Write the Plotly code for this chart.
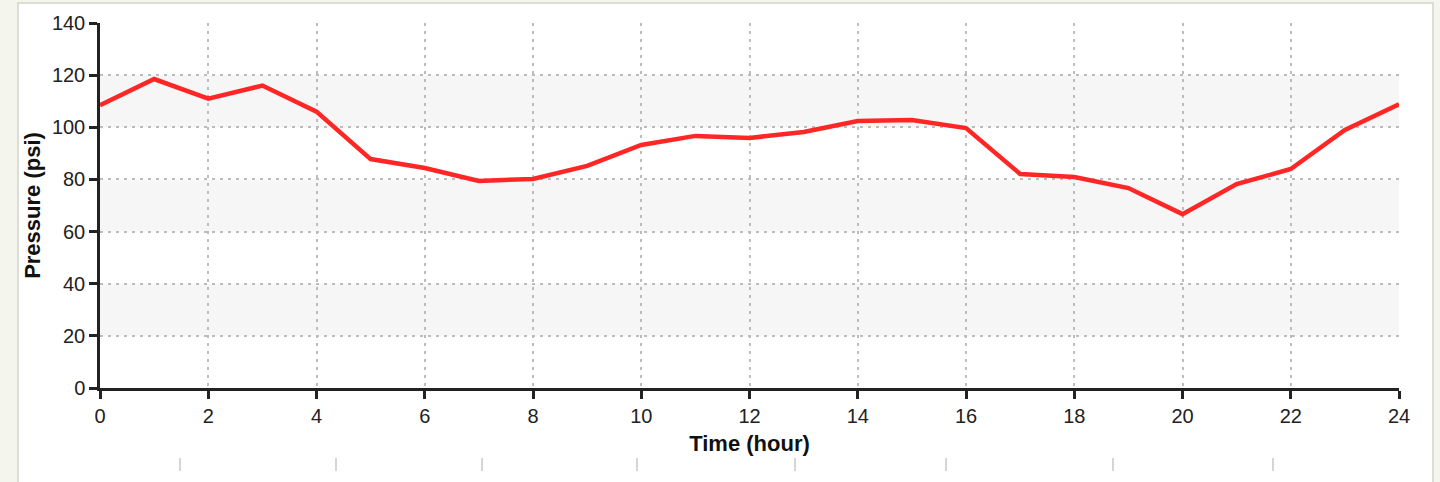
import plotly.graph_objects as go

# ---- data ----
hours = list(range(25))
pressure = [108.5, 118.5, 111, 116, 106, 87.8, 84.4, 79.4, 80.2, 85.2, 93.2, 96.7, 95.9,
            98.2, 102.4, 102.8, 99.7, 82.1, 80.9, 76.7, 66.7, 78.2, 84.0, 99.0, 108.8]
x_ticks = list(range(0, 25, 2))
y_ticks = list(range(0, 141, 20))
band_ranges = [(20, 40), (60, 80), (100, 120)]

W, H = 1440, 482
L, R, T, B = 100, 41, 23, 94
pw, ph = W - L - R, H - T - B


def px_to_paper_x(px):
    return (px - L) / pw


def px_to_paper_y(py):
    return (H - B - py) / ph


fig = go.Figure()
fig.add_trace(go.Scatter(
    x=hours, y=pressure, mode="lines",
    line=dict(color="#ff2626", width=4.5),
    hoverinfo="x+y", showlegend=False,
))

shapes = []
# white panel on cream background
shapes.append(dict(type="rect", xref="paper", yref="paper", layer="below",
                   x0=px_to_paper_x(18), x1=px_to_paper_x(1433),
                   y0=px_to_paper_y(495), y1=px_to_paper_y(3),
                   fillcolor="white", line=dict(color="#d4d4cc", width=1.5)))
# alternating bands
for lo, hi in band_ranges:
    shapes.append(dict(type="rect", xref="paper", yref="y", layer="below",
                       x0=0, x1=1, y0=lo, y1=hi,
                       fillcolor="#f6f6f6", line=dict(width=0)))
# faint marks under the chart
for mx in [180, 336, 482, 637, 795, 946, 1113, 1273]:
    shapes.append(dict(type="line", xref="paper", yref="paper",
                       x0=px_to_paper_x(mx), x1=px_to_paper_x(mx),
                       y0=px_to_paper_y(458), y1=px_to_paper_y(471),
                       line=dict(color="#d6d6d6", width=2)))

font_family = "Liberation Sans, Arial, sans-serif"
grid_dash = "3px,5px"

fig.update_layout(
    width=W, height=H,
    margin=dict(l=L, r=R, t=T, b=B),
    paper_bgcolor="#f4f5ec",
    plot_bgcolor="rgba(0,0,0,0)",
    shapes=shapes,
    font=dict(family=font_family, size=20, color="#222"),
    xaxis=dict(
        range=[0, 24], tickvals=x_ticks, ticks="outside", ticklen=8, tickwidth=2.5,
        tickcolor="#222", showline=True, linecolor="#222", linewidth=2.5,
        showgrid=True, gridcolor="#bcbcbc", griddash=grid_dash, gridwidth=2,
        zeroline=False, tickfont=dict(size=20, color="#222"),
        title=dict(text="<b>Time (hour)</b>", font=dict(size=22, color="#111"), standoff=10),
    ),
    yaxis=dict(
        range=[0, 140], tickvals=y_ticks, ticks="outside", ticklen=8, tickwidth=2.5,
        tickcolor="#222", showline=True, linecolor="#222", linewidth=2.5,
        showgrid=True, gridcolor="#bcbcbc", griddash=grid_dash, gridwidth=2,
        zeroline=False, tickfont=dict(size=20, color="#222"),
        title=dict(text="<b>Pressure (psi)</b>", font=dict(size=22, color="#111"), standoff=6),
    ),
)

fig.write_html("out.html", config={"displayModeBar": False},
               post_script="document.body.style.margin='0';")
